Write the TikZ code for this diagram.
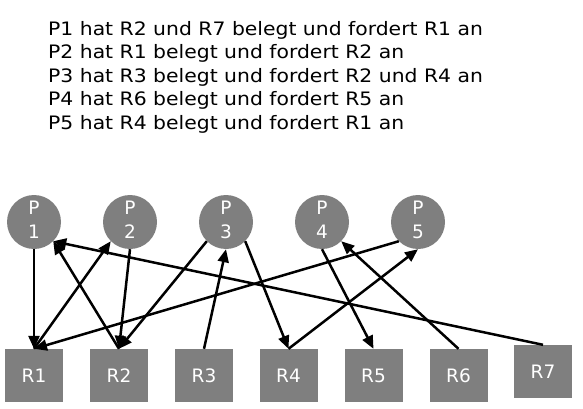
\documentclass[tikz,border=0pt]{standalone}
\usepackage{fontspec}
\setmainfont{DejaVu Sans}
\usetikzlibrary{arrows.meta}
\definecolor{boxgray}{RGB}{127,127,127}
\newcommand{\pdown}{\rule[-4pt]{0pt}{0pt}}
\begin{document}
\begin{tikzpicture}[x=1pt,y=-1pt,
  proc/.style={circle,fill=boxgray,minimum size=54pt,inner sep=0pt,text=white,align=center,font=\fontsize{18.5}{24.5}\selectfont},
  res/.style={rectangle,fill=boxgray,minimum width=58pt,minimum height=53pt,inner sep=0pt,text=white,font=\fontsize{18.5}{22}\selectfont},
  txtline/.style={font=\fontsize{18.5}{22}\selectfont,anchor=base west,inner sep=0pt},
  conn/.style={-{Triangle[length=13pt,width=11pt]},line width=2.5pt}]
\useasboundingbox (0,0) rectangle (583,409);
% text lines
\node[txtline] (T1) at (48,35.7) {\scalebox{1.1}[1]{P1 hat R2 und R7 belegt und fordert R1 an}};
\node[txtline] (T2) at (48,59.0) {\scalebox{1.1}[1]{P2 hat R1 belegt und fordert R2 an}};
\node[txtline] (T3) at (48,82.3) {\scalebox{1.1}[1]{P3 hat R3 belegt und fordert R2 und R4 an}};
\node[txtline] (T4) at (48,105.6) {\scalebox{1.1}[1]{P4 hat R6 belegt und fordert R5 an}};
\node[txtline] (T5) at (48,129.0) {\scalebox{1.1}[1]{P5 hat R4 belegt und fordert R1 an}};
% processes
\node[proc] (P1) at (34,222) {P\\1\pdown};
\node[proc] (P2) at (130,222) {P\\2\pdown};
\node[proc] (P3) at (226,222) {P\\3\pdown};
\node[proc] (P4) at (322,222) {P\\4\pdown};
\node[proc] (P5) at (418,222) {P\\5\pdown};
% resources
\node[res] (R1) at (34,375.5) {R1};
\node[res] (R2) at (119,375.5) {R2};
\node[res] (R3) at (204,375.5) {R3};
\node[res] (R4) at (288.5,375.5) {R4};
\node[res] (R5) at (373.5,375.5) {R5};
\node[res] (R6) at (458.5,375.5) {R6};
\node[res] (R7) at (543,371.5) {R7};
% connectors
\draw[conn] (P1.south) -- (R1.north);
\draw[conn] (R1.north) -- (P2.south west);
\draw[conn] (R2.north) -- (P1.south east);
\draw[conn] (P2.south) -- (R2.north);
\draw[conn] (P3.south west) -- (R2.north);
\draw[conn] (R3.north) -- (P3.south);
\draw[conn] (P3.south east) -- (R4.north);
\draw[conn] (R4.north) -- (P5.south);
\draw[conn] (P5.south west) -- (R1.north);
\draw[conn] (P4.south) -- (R5.north);
\draw[conn] (R6.north) -- (P4.south east);
\draw[conn] (R7.north) -- (P1.south east);
\end{tikzpicture}
\end{document}
